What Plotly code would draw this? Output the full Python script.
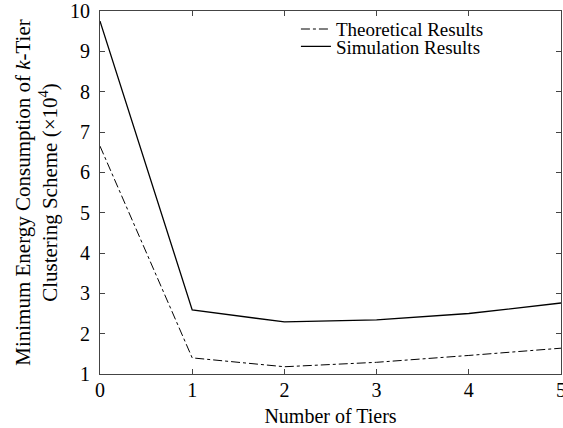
import plotly.graph_objects as go

tiers = [0, 1, 2, 3, 4, 5]
theoretical = [6.65, 1.40, 1.18, 1.29, 1.46, 1.64]
simulation = [9.75, 2.59, 2.29, 2.34, 2.50, 2.76]

fig = go.Figure()
fig.add_trace(go.Scatter(x=tiers, y=theoretical, mode="lines", name="Theoretical Results",
                         legend="legend",
                         line=dict(color="black", width=1, dash="dashdot")))
fig.add_trace(go.Scatter(x=tiers, y=simulation, mode="lines", name="Simulation Results",
                         legend="legend2",
                         line=dict(color="black", width=1.3)))

axis_common = dict(showline=True, linecolor="#444", linewidth=1, mirror="ticks",
                   ticks="inside", ticklen=5, tickcolor="#444", showgrid=False,
                   zeroline=False, tickfont=dict(size=20, color="black"))
leg_common = dict(x=0.425, xanchor="left", yanchor="middle", bgcolor="rgba(0,0,0,0)",
                  font=dict(size=19), itemwidth=30)
fig.update_layout(
    width=563, height=428,
    margin=dict(l=100, r=2, t=11, b=54, autoexpand=False),
    paper_bgcolor="white", plot_bgcolor="white",
    font=dict(family="Liberation Serif", color="black", size=20),
    xaxis=dict(range=[0, 5], dtick=1, automargin=False, ticklabeloverflow="allow",
               ticklabelstandoff=-2,
               title=dict(text="Number of Tiers", font=dict(size=20), standoff=8), **axis_common),
    yaxis=dict(range=[1, 10], dtick=1, automargin=False, ticklabelstandoff=5,
               title=dict(text="Minimum Energy Consumption of <i>k</i>-Tier<br>Clustering Scheme (×10<sup>4</sup>)",
                          font=dict(size=21), standoff=6), **axis_common),
    legend=dict(y=0.950, **leg_common),
    legend2=dict(y=0.902, **leg_common),
    showlegend=True,
)
fig.write_html("out.html", config={"displayModeBar": False},
               post_script="document.body.style.margin='0';document.body.style.padding='0';")
